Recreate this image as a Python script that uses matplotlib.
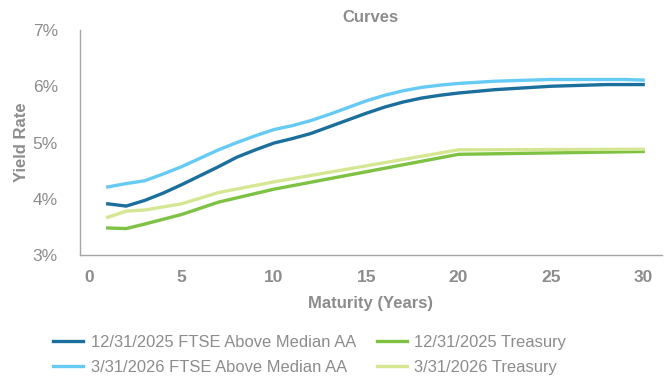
import numpy as np
import matplotlib.pyplot as plt

# FTSE Above Median AA curves, yearly maturities 1..30
years = list(range(1, 31))
ftse_dec25 = [3.91, 3.87, 3.97, 4.10, 4.25, 4.41, 4.57, 4.74, 4.87, 4.99,
              5.07, 5.16, 5.28, 5.40, 5.52, 5.63, 5.72, 5.79, 5.84, 5.88,
              5.91, 5.94, 5.96, 5.98, 6.00, 6.01, 6.02, 6.03, 6.03, 6.03]
ftse_mar26 = [4.21, 4.27, 4.32, 4.44, 4.57, 4.72, 4.87, 5.00, 5.12, 5.23,
              5.30, 5.39, 5.50, 5.62, 5.74, 5.84, 5.92, 5.98, 6.02, 6.05,
              6.07, 6.09, 6.10, 6.11, 6.12, 6.12, 6.12, 6.12, 6.12, 6.11]

# Treasury curves at standard tenors
tenors = [1, 2, 3, 5, 7, 10, 20, 30]
tsy_dec25 = [3.48, 3.47, 3.55, 3.72, 3.94, 4.17, 4.79, 4.84]
tsy_mar26 = [3.67, 3.78, 3.80, 3.91, 4.11, 4.30, 4.87, 4.88]

x_ticks = [0, 5, 10, 15, 20, 25, 30]
y_ticks = [3, 4, 5, 6, 7]

plt.rcParams['font.family'] = ['Liberation Sans Narrow', 'Liberation Sans', 'DejaVu Sans']
gray = '#8c8c8c'

fig = plt.figure(figsize=(6.67, 3.77), dpi=100)
ax = fig.add_axes([0.12, 0.3236, 0.872, 0.5968])

lw = 2.4
ax.plot(years, ftse_dec25, color='#1b6f9c', lw=lw, label='12/31/2025 FTSE Above Median AA')
ax.plot(years, ftse_mar26, color='#66cbf4', lw=lw, label='3/31/2026 FTSE Above Median AA')
ax.plot(tenors, tsy_dec25, color='#7dc243', lw=lw, label='12/31/2025 Treasury')
ax.plot(tenors, tsy_mar26, color='#d6e794', lw=lw, label='3/31/2026 Treasury')

ax.set_xlim(-0.5, 31)
ax.set_ylim(3, 7)
ax.set_xticks(x_ticks)
ax.set_yticks(y_ticks)
ax.set_yticklabels(['{}%'.format(v) for v in y_ticks])
ax.tick_params(axis='both', length=0, colors=gray, labelsize=12.5)
ax.tick_params(axis='x', pad=11)
ax.tick_params(axis='y', pad=16)
for lab in ax.get_xticklabels():
    lab.set_fontweight('bold')

for s in ['top', 'right']:
    ax.spines[s].set_visible(False)
for s in ['left', 'bottom']:
    ax.spines[s].set_color('#a6a6a6')
    ax.spines[s].set_linewidth(1.0)

ax.set_xlabel('Maturity (Years)', color=gray, fontweight='bold', fontsize=12, labelpad=8)
ax.set_ylabel('Yield Rate', color=gray, fontweight='bold', fontsize=12)
ax.yaxis.set_label_coords(-0.087, 0.5)
ax.set_title('Curves', color=gray, fontweight='bold', fontsize=12, pad=6)

leg = ax.legend(ncol=2, loc='upper left', bbox_to_anchor=(-0.072, -0.288),
                frameon=False, fontsize=11.9, handlelength=1.8, handletextpad=0.47,
                columnspacing=1.27, labelspacing=0.6)
for t in leg.get_texts():
    t.set_color(gray)

fig.savefig('out.png', dpi=100)
